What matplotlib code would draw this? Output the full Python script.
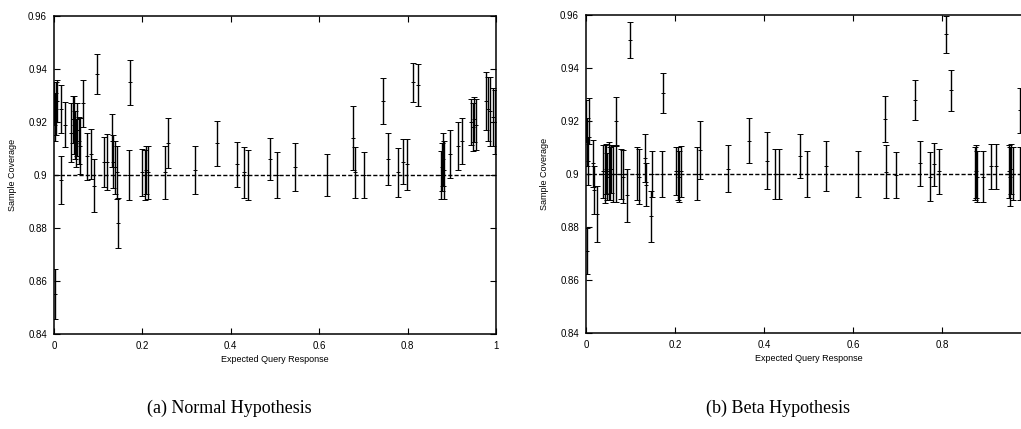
import matplotlib.pyplot as plt

# values
normal_x = [0.001, 0.002, 0.003, 0.005, 0.007, 0.015, 0.015, 0.025, 0.038, 0.043,
            0.046, 0.048, 0.050, 0.053, 0.056, 0.059, 0.065, 0.075, 0.083, 0.090,
            0.098, 0.113, 0.120, 0.131, 0.133, 0.138, 0.143, 0.145, 0.170, 0.172,
            0.200, 0.205, 0.208, 0.212, 0.250, 0.258, 0.320, 0.369, 0.414, 0.430,
            0.439, 0.489, 0.504, 0.545, 0.618, 0.677, 0.681, 0.701, 0.745, 0.756,
            0.778, 0.790, 0.799, 0.813, 0.824, 0.876, 0.878, 0.880, 0.882, 0.896,
            0.914, 0.923, 0.944, 0.947, 0.950, 0.955, 0.978, 0.982, 0.986, 0.993,
            0.997]
normal_y = [0.927, 0.855, 0.922, 0.925, 0.928, 0.925, 0.898, 0.919, 0.916, 0.921,
            0.919, 0.915, 0.912, 0.917, 0.913, 0.911, 0.927, 0.907, 0.908, 0.896,
            0.938, 0.905, 0.905, 0.913, 0.905, 0.903, 0.901, 0.882, 0.900, 0.935,
            0.901, 0.900, 0.902, 0.901, 0.901, 0.912, 0.902, 0.912, 0.904, 0.901,
            0.900, 0.906, 0.900, 0.903, 0.900, 0.914, 0.901, 0.900, 0.928, 0.906,
            0.901, 0.905, 0.904, 0.935, 0.934, 0.900, 0.903, 0.906, 0.902, 0.908,
            0.911, 0.913, 0.920, 0.918, 0.921, 0.919, 0.928, 0.925, 0.924, 0.922,
            0.920]
normal_err = [0.008, 0.0095, 0.009, 0.010, 0.008, 0.009, 0.009, 0.0085, 0.011, 0.009,
              0.011, 0.009, 0.009, 0.010, 0.009, 0.0105, 0.009, 0.009, 0.0095, 0.010,
              0.0075, 0.0095, 0.0105, 0.010, 0.010, 0.010, 0.010, 0.0095, 0.0095, 0.0085,
              0.009, 0.0095, 0.009, 0.010, 0.010, 0.0095, 0.009, 0.0085, 0.0085, 0.0095,
              0.0095, 0.008, 0.0085, 0.009, 0.008, 0.012, 0.0095, 0.0085, 0.0087, 0.0097,
              0.0093, 0.0084, 0.0097, 0.0073, 0.0078, 0.009, 0.009, 0.010, 0.011, 0.009,
              0.009, 0.0087, 0.0087, 0.009, 0.0085, 0.0097, 0.011, 0.012, 0.013, 0.011,
              0.012]

beta_x = [0.001, 0.002, 0.003, 0.004, 0.006, 0.016, 0.018, 0.025, 0.038, 0.042,
          0.045, 0.048, 0.051, 0.053, 0.056, 0.060, 0.067, 0.068, 0.079, 0.083,
          0.091, 0.099, 0.115, 0.118, 0.132, 0.135, 0.146, 0.148, 0.171, 0.172,
          0.203, 0.206, 0.209, 0.213, 0.249, 0.256, 0.319, 0.366, 0.407, 0.425,
          0.434, 0.481, 0.497, 0.539, 0.611, 0.672, 0.674, 0.697, 0.739, 0.751,
          0.773, 0.782, 0.794, 0.808, 0.820, 0.874, 0.876, 0.878, 0.892, 0.910,
          0.921, 0.950, 0.953, 0.956, 0.960, 0.975, 0.976]
beta_y = [0.920, 0.871, 0.912, 0.905, 0.920, 0.904, 0.894, 0.885, 0.901, 0.900,
          0.902, 0.899, 0.901, 0.900, 0.902, 0.900, 0.920, 0.900, 0.900, 0.899,
          0.892, 0.9505, 0.900, 0.899, 0.906, 0.896, 0.884, 0.900, 0.900, 0.9305,
          0.901, 0.900, 0.899, 0.901, 0.900, 0.909, 0.902, 0.9125, 0.905, 0.900,
          0.900, 0.9068, 0.900, 0.903, 0.900, 0.9206, 0.9008, 0.8997, 0.928, 0.904,
          0.899, 0.9036, 0.901, 0.9527, 0.9316, 0.900, 0.901, 0.899, 0.899, 0.903,
          0.903, 0.901, 0.899, 0.902, 0.900, 0.924, 0.900]
beta_err = [0.008, 0.0087, 0.009, 0.009, 0.0085, 0.009, 0.009, 0.0105, 0.010, 0.011,
            0.0095, 0.009, 0.011, 0.010, 0.009, 0.0105, 0.009, 0.0105, 0.0095, 0.010,
            0.010, 0.0067, 0.010, 0.0105, 0.009, 0.008, 0.0095, 0.0085, 0.0085, 0.0075,
            0.009, 0.010, 0.0095, 0.0095, 0.010, 0.011, 0.0088, 0.0085, 0.0108, 0.0095,
            0.0093, 0.0083, 0.0087, 0.0094, 0.0087, 0.0087, 0.010, 0.0087, 0.0076, 0.0084,
            0.0092, 0.0081, 0.0085, 0.0071, 0.0078, 0.010, 0.010, 0.0095, 0.0095, 0.0085,
            0.0085, 0.010, 0.011, 0.0095, 0.010, 0.0085, 0.010]

target = 0.9
y_ticks = [0.84, 0.86, 0.88, 0.9, 0.92, 0.94, 0.96]
y_labels = ['0.84', '0.86', '0.88', '0.9', '0.92', '0.94', '0.96']
x_ticks = [0, 0.2, 0.4, 0.6, 0.8, 1]
x_labels = ['0', '0.2', '0.4', '0.6', '0.8', '1']
# right panel runs off the page in the scan, so its "1" is not visible
x_labels_b = ['0', '0.2', '0.4', '0.6', '0.8', '']
captions = ['(a) Normal Hypothesis', '(b) Beta Hypothesis']

plt.rcParams['font.family'] = ['Liberation Sans', 'DejaVu Sans']

fig = plt.figure(figsize=(10.21, 4.29), dpi=100)
ax1 = fig.add_axes([0.0529, 0.2214, 0.4329, 0.7413])
ax2 = fig.add_axes([0.5740, 0.2238, 0.4358, 0.7413])

for ax, xs, ys, es, xl in [(ax1, normal_x, normal_y, normal_err, x_labels),
                           (ax2, beta_x, beta_y, beta_err, x_labels_b)]:
    ax.errorbar(xs, ys, yerr=es, fmt='+', color='black', ms=3, mew=0.7,
                elinewidth=1.0, capsize=2, capthick=0.9)
    ax.axhline(target, color='black', ls=(0, (3, 1.5)), lw=1.0)
    ax.set_xlim(0, 1)
    ax.set_ylim(0.84, 0.96)
    ax.set_xticks(x_ticks)
    ax.set_xticklabels(xl)
    ax.set_yticks(y_ticks)
    ax.set_yticklabels(y_labels)
    ax.tick_params(direction='in', length=4, width=0.8, top=True, right=True,
                   labelsize=7, pad=5)
    for s in ax.spines.values():
        s.set_linewidth(1.1)
    ax.set_xlabel('Expected Query Response', fontsize=6.5, labelpad=3)
    ax.set_ylabel('Sample Coverage', fontsize=6.5, labelpad=8)

fig.text(0.225, 0.048, captions[0], ha='center', va='center', fontsize=13,
         family='Liberation Serif')
fig.text(0.762, 0.048, captions[1], ha='center', va='center', fontsize=13,
         family='Liberation Serif')

fig.savefig('out.png', dpi=100)
